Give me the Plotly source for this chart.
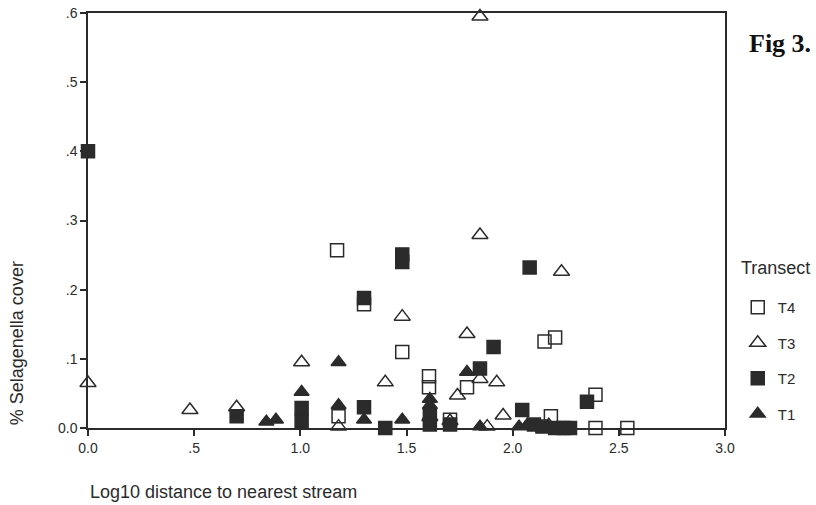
import plotly.graph_objects as go

# T1 (filled triangles)
t1_x = [0.84, 0.885, 1.006, 1.18, 1.18, 1.30, 1.48, 1.61, 1.61, 1.785, 1.846, 2.03, 2.07]
t1_y = [0.009, 0.012, 0.052, 0.095, 0.033, 0.012, 0.012, 0.042, 0.033, 0.081, 0.002, 0.002, 0.005]

# T2 (filled squares)
t2_x = [0.0, 0.70, 1.006, 1.006, 1.30, 1.30, 1.40, 1.48, 1.48, 1.61, 1.61, 1.705,
        1.846, 1.91, 2.045, 2.08, 2.10, 2.14, 2.20, 2.24, 2.27, 2.35]
t2_y = [0.40, 0.017, 0.029, 0.010, 0.188, 0.030, 0.0, 0.251, 0.240, 0.020, 0.005, 0.005,
        0.086, 0.117, 0.026, 0.232, 0.005, 0.002, 0.0, 0.0, 0.0, 0.038]

# T3 (open triangles)
t3_x = [0.0, 0.48, 0.70, 1.006, 1.18, 1.40, 1.48, 1.61, 1.705, 1.74, 1.785, 1.846,
        1.846, 1.846, 1.88, 1.925, 1.955, 2.17, 2.23]
t3_y = [0.065, 0.026, 0.030, 0.095, 0.002, 0.066, 0.161, 0.016, 0.010, 0.047, 0.136, 0.595,
        0.279, 0.071, 0.002, 0.066, 0.018, 0.004, 0.226]

# T4 (open squares)
t4_x = [1.173, 1.18, 1.30, 1.48, 1.606, 1.606, 1.705, 1.785, 2.15, 2.20, 2.18, 2.39, 2.39, 2.54]
t4_y = [0.257, 0.017, 0.179, 0.110, 0.075, 0.059, 0.012, 0.059, 0.125, 0.131, 0.017, 0.048, 0.0, 0.0]

x_ticks = [0.0, 0.5, 1.0, 1.5, 2.0, 2.5, 3.0]
x_ticktext = ["0.0", ".5", "1.0", "1.5", "2.0", "2.5", "3.0"]
y_ticks = [0.0, 0.1, 0.2, 0.3, 0.4, 0.5, 0.6]
y_ticktext = ["0.0", ".1", ".2", ".3", ".4", ".5", ".6"]

INK = "#2b2b2b"
FONT = "Liberation Sans, Arial, sans-serif"

fig = go.Figure()

series = [
    ("T4", t4_x, t4_y, "square-open", 13),
    ("T3", t3_x, t3_y, "triangle-up-open", 14),
    ("T2", t2_x, t2_y, "square", 13),
    ("T1", t1_x, t1_y, "triangle-up", 13),
]
for name, xs, ys, sym, sz in series:
    fig.add_trace(go.Scatter(
        x=xs, y=ys, mode="markers", name=name, legendgroup=name,
        cliponaxis=False,
        marker=dict(symbol=sym, size=sz, color=INK, line=dict(color=INK, width=1.5)),
    ))

axis_common = dict(
    showgrid=False, zeroline=False, showline=True, linecolor=INK, linewidth=1.5,
    mirror=True, ticks="outside", ticklen=6, tickcolor=INK, tickwidth=1.5,
    tickfont=dict(size=14, color=INK), automargin=False,
)

fig.update_layout(
    width=816, height=505,
    margin=dict(l=88, r=91, t=13, b=77),
    paper_bgcolor="white", plot_bgcolor="white",
    font=dict(family=FONT, size=14, color=INK),
    showlegend=True,
    legend=dict(
        x=1.02, xanchor="left", y=0.33, yanchor="top",
        tracegroupgap=13, itemwidth=30,
        font=dict(size=15, color=INK),
        bgcolor="rgba(0,0,0,0)",
    ),
    xaxis=dict(range=[0, 3], tickmode="array", tickvals=x_ticks, ticktext=x_ticktext,
               **axis_common),
    yaxis=dict(range=[0, 0.6], tickmode="array", tickvals=y_ticks, ticktext=y_ticktext,
               **axis_common),
    annotations=[
        dict(text="% Selagenella cover", xref="paper", yref="paper",
             x=-0.111, y=0.205, xanchor="center", yanchor="middle", textangle=-90,
             showarrow=False, font=dict(size=18, color=INK)),
        dict(text="Log10 distance to nearest stream", xref="paper", yref="paper",
             x=0.0, y=-0.154, xanchor="left", yanchor="middle",
             showarrow=False, font=dict(size=18, color=INK)),
        dict(text="Transect", xref="paper", yref="paper",
             x=1.022, y=0.386, xanchor="left", yanchor="middle",
             showarrow=False, font=dict(size=18, color=INK)),
        dict(text="<b>Fig 3.</b>", xref="paper", yref="paper",
             x=1.034, y=0.926, xanchor="left", yanchor="middle",
             showarrow=False, font=dict(size=26, color="#111",
                                        family="Liberation Serif, Times New Roman, serif")),
    ],
)

fig.write_html("out.html", config={"displayModeBar": False},
               post_script="document.body.style.margin='0';")
